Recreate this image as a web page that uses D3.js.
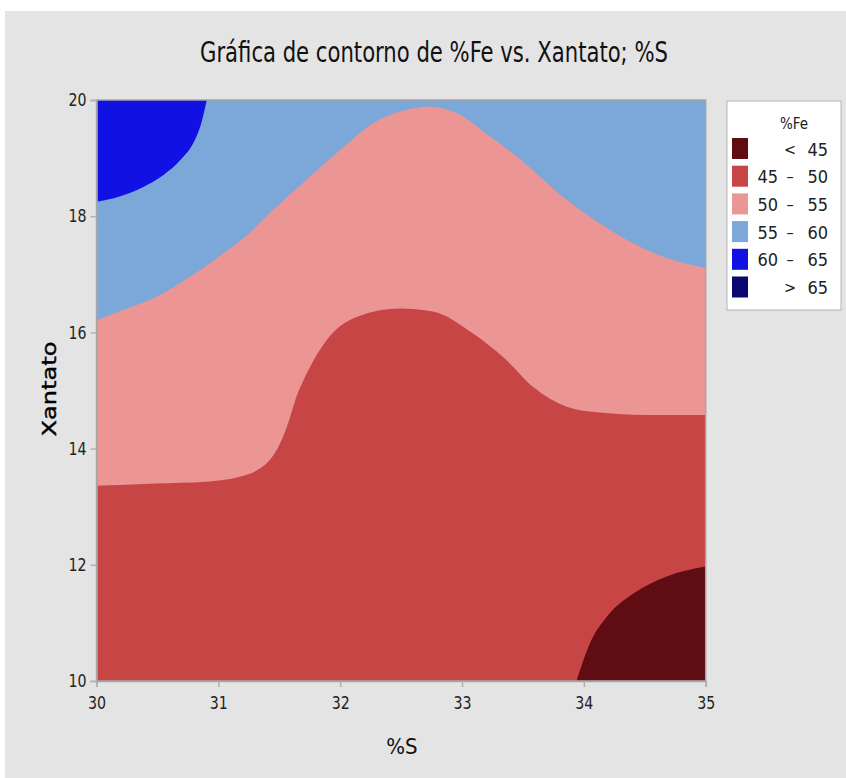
<!DOCTYPE html>
<html>
<head>
<meta charset="utf-8">
<script src="https://cdn.jsdelivr.net/npm/d3@7"></script>
<style>
  html, body { margin: 0; padding: 0; background: #ffffff; }
  svg { display: block; }
  .narrow { font-family: "Liberation Sans Narrow", "DejaVu Sans Condensed", "Arial Narrow", sans-serif; }
</style>
</head>
<body>
<script>
// Contour boundaries of %Fe over (%S, Xantato), as traced points [%S, Xantato]
const contour60 = [[30, 18.25], [30.19, 18.34], [30.38, 18.5], [30.55, 18.71], [30.69, 18.97], [30.8, 19.28],
  [30.86, 19.6], [30.905, 20]];
const contour55 = [[30, 16.21], [30.22, 16.39], [30.49, 16.61], [30.77, 16.96], [31.04, 17.36], [31.25, 17.7],
  [31.45, 18.11], [31.72, 18.62], [32.0, 19.14], [32.27, 19.6], [32.49, 19.8], [32.74, 19.89], [32.96, 19.77],
  [33.23, 19.37], [33.5, 18.94], [33.64, 18.68], [33.86, 18.28], [34.13, 17.88], [34.41, 17.53], [34.68, 17.28], [35, 17.11]];
const contour50 = [[30, 13.36], [30.49, 13.4], [30.9, 13.43], [31.18, 13.52], [31.32, 13.63], [31.42, 13.8],
  [31.48, 13.98], [31.53, 14.2], [31.59, 14.55], [31.64, 14.89], [31.7, 15.18], [31.89, 15.87], [32.14, 16.27],
  [32.49, 16.41], [32.76, 16.36], [33.09, 15.98], [33.35, 15.55], [33.59, 15.05], [33.86, 14.72], [34.13, 14.62],
  [34.5, 14.58], [35, 14.58]];
const contour45 = [[33.94, 10], [34.05, 10.65], [34.19, 11.11], [34.41, 11.51], [34.68, 11.8], [35, 11.97]];

// Axis ticks
const xTicks = [30, 31, 32, 33, 34, 35];
const yTicks = [10, 12, 14, 16, 18, 20];

// Legend classes
const legendLow = ["", "45", "50", "55", "60", ""];
const legendSep = ["<", "–", "–", "–", "–", ">"];
const legendHigh = ["45", "50", "55", "60", "65", "65"];
const legendColors = ["#5f0c13", "#c74545", "#eb9595", "#7ba7d9", "#1111e4", "#08086f"];

const W = 846, H = 778;
const svg = d3.select("body").append("svg").attr("width", W).attr("height", H);

// Panel background
svg.append("rect").attr("x", 5).attr("y", 11).attr("width", W - 5).attr("height", H - 11).attr("fill", "#e4e4e4");

const x = d3.scaleLinear().domain([30, 35]).range([96.5, 705.7]);
const y = d3.scaleLinear().domain([10, 20]).range([681, 100]);

const [x0, x1] = x.range();
const [y0, y1] = y.range();

svg.append("defs").append("clipPath").attr("id", "plotClip")
  .append("rect").attr("x", x0).attr("y", y1).attr("width", x1 - x0).attr("height", y0 - y1);

const plot = svg.append("g").attr("clip-path", "url(#plotClip)");

const curve = d3.line().x(d => x(d[0])).y(d => y(d[1])).curve(d3.curveMonotoneX);

// Region bounded by a contour line and closed through the given corner points
function region(points, corners) {
  let p = curve(points);
  corners.forEach(c => { p += "L" + x(c[0]) + "," + y(c[1]); });
  return p + "Z";
}

// 55–60 band fills the whole domain underneath
plot.append("rect").attr("x", x0).attr("y", y1).attr("width", x1 - x0).attr("height", y0 - y1)
  .attr("fill", legendColors[3]);
plot.append("path").attr("d", region(contour55, [[35, 10], [30, 10]])).attr("fill", legendColors[2]);
plot.append("path").attr("d", region(contour50, [[35, 10], [30, 10]])).attr("fill", legendColors[1]);
plot.append("path").attr("d", region(contour45, [[35, 10]])).attr("fill", legendColors[0]);
plot.append("path").attr("d", region(contour60, [[30, 20]])).attr("fill", legendColors[4]);

// Frame
svg.append("rect").attr("x", x0).attr("y", y1).attr("width", x1 - x0).attr("height", y0 - y1)
  .attr("fill", "none").attr("stroke", "#a6a6a6").attr("stroke-width", 1.5);

// Axes
const xAxis = svg.append("g").attr("transform", `translate(0,${y0})`)
  .call(d3.axisBottom(x).tickValues(xTicks).tickSize(6).tickPadding(6).tickFormat(d3.format("d")));
const yAxis = svg.append("g").attr("transform", `translate(${x0},0)`)
  .call(d3.axisLeft(y).tickValues(yTicks).tickSize(6).tickPadding(4).tickFormat(d3.format("d")));
[xAxis, yAxis].forEach(a => {
  a.select(".domain").attr("stroke", "#a6a6a6").attr("stroke-width", 1.5);
  a.selectAll(".tick line").attr("stroke", "#b0b0b0").attr("stroke-width", 1.5);
  a.selectAll(".tick text").attr("class", "narrow").attr("fill", "#222")
    .attr("font-size", 18).attr("textLength", 18).attr("lengthAdjust", "spacingAndGlyphs");
});
xAxis.selectAll(".tick text").attr("dy", "0.9em");

// Title
svg.append("text").attr("class", "narrow").attr("x", 434).attr("y", 62).attr("text-anchor", "middle")
  .attr("font-size", 28).attr("fill", "#111").attr("textLength", 468).attr("lengthAdjust", "spacingAndGlyphs")
  .text("Gráfica de contorno de %Fe vs. Xantato; %S");

// Axis titles
svg.append("text").attr("class", "narrow").attr("x", 402).attr("y", 754).attr("text-anchor", "middle")
  .attr("font-size", 22).attr("fill", "#111").text("%S");
svg.append("text").attr("transform", "translate(56,389) rotate(-90)").attr("text-anchor", "middle")
  .attr("font-family", "DejaVu Sans, sans-serif").attr("font-size", 19).attr("fill", "#000")
  .attr("stroke", "#000").attr("stroke-width", 0.4)
  .attr("textLength", 95).attr("lengthAdjust", "spacingAndGlyphs").text("Xantato");

// Legend
const lg = svg.append("g");
lg.append("rect").attr("x", 727).attr("y", 101).attr("width", 114).attr("height", 209)
  .attr("fill", "#ffffff").attr("stroke", "#b4b4b4").attr("stroke-width", 1);
lg.append("text").attr("class", "narrow").attr("x", 794).attr("y", 129).attr("text-anchor", "middle")
  .attr("font-size", 15).attr("fill", "#222").text("%Fe");
const rows = lg.selectAll("g.row").data(legendColors).join("g").attr("class", "row")
  .attr("transform", (d, i) => `translate(0,${148.5 + i * 27.7})`);
rows.append("rect").attr("x", 732).attr("y", -10.5).attr("width", 16).attr("height", 21).attr("fill", d => d);
rows.append("text").attr("class", "narrow").attr("x", 778).attr("y", 7).attr("text-anchor", "end")
  .attr("font-size", 18).attr("fill", "#222").text((d, i) => legendLow[i]);
rows.append("text").attr("class", "narrow").attr("x", 790).attr("y", 6).attr("text-anchor", "middle")
  .attr("font-size", 16).attr("fill", "#222").text((d, i) => legendSep[i]);
rows.append("text").attr("class", "narrow").attr("x", 828).attr("y", 7).attr("text-anchor", "end")
  .attr("font-size", 18).attr("fill", "#222").text((d, i) => legendHigh[i]);
</script>
</body>
</html>
